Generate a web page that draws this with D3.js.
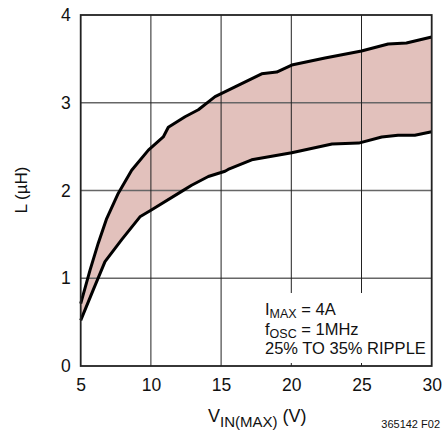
<!DOCTYPE html>
<html><head><meta charset="utf-8">
<script src="https://cdn.jsdelivr.net/npm/d3@7"></script>
<style>
html,body{margin:0;padding:0;background:#fff;}
svg{display:block;}
text{font-family:"Liberation Sans",Arial,sans-serif;fill:#111;}
</style></head>
<body>
<script>
// ---- data ----
const xTicks = [5, 10, 15, 20, 25, 30];
const yTicks = [0, 1, 2, 3, 4];
const upperV = [5, 5.66, 6.25, 6.85, 7.68, 8.63, 9.82, 10.88, 11.24, 12.43, 13.38, 14.57, 15.99, 17.89, 18.96, 20.03, 22.4, 25.0, 26.9, 28.2, 30];
const upperL = [0.71, 1.09, 1.40, 1.68, 1.97, 2.23, 2.46, 2.61, 2.72, 2.84, 2.92, 3.07, 3.18, 3.33, 3.35, 3.43, 3.51, 3.59, 3.67, 3.68, 3.75];
const lowerV = [5, 5.9, 6.73, 7.92, 9.22, 10.06, 12.19, 12.9, 14.09, 15.28, 15.5, 17.18, 20.03, 22.9, 24.8, 26.44, 27.6, 28.8, 30];
const lowerL = [0.52, 0.87, 1.19, 1.44, 1.70, 1.78, 1.99, 2.06, 2.16, 2.22, 2.24, 2.35, 2.43, 2.53, 2.54, 2.61, 2.63, 2.63, 2.67];
const notes = [["I", "MAX", " = 4A"], ["f", "OSC", " = 1MHz"], ["25% TO 35% RIPPLE", "", ""]];

const W = 444, H = 431;
const svg = d3.select("body").append("svg").attr("width", W).attr("height", H);
const x = d3.scaleLinear().domain([5, 30]).range([80.7, 431.7]);
const y = d3.scaleLinear().domain([0, 4]).range([366, 15]);

// band
const upper = upperV.map((v, i) => [v, upperL[i]]);
const lower = lowerV.map((v, i) => [v, lowerL[i]]);
const poly = upper.concat(lower.slice().reverse());
const line = d3.line().x(d => x(d[0])).y(d => y(d[1])).curve(d3.curveLinear);
svg.append("path").attr("d", line(poly) + "Z").attr("fill", "#e2c1bc").attr("stroke", "none");

// grid
svg.append("g").selectAll("line").data(yTicks.slice(1, -1)).join("line")
  .attr("x1", x(5)).attr("x2", x(30)).attr("y1", d => y(d)).attr("y2", d => y(d))
  .attr("stroke", "#666").attr("stroke-width", 1.3);
svg.append("g").selectAll("line").data(xTicks.slice(1, -1)).join("line")
  .attr("x1", d => x(d)).attr("x2", d => x(d)).attr("y1", y(0)).attr("y2", y(4))
  .attr("stroke", "#222").attr("stroke-width", 1);

// curves
svg.append("path").attr("d", line(upper)).attr("fill", "none").attr("stroke", "#000").attr("stroke-width", 3).attr("stroke-linejoin", "round");
svg.append("path").attr("d", line(lower)).attr("fill", "none").attr("stroke", "#000").attr("stroke-width", 3).attr("stroke-linejoin", "round");

// annotation box
svg.append("rect").attr("x", 262).attr("y", 293).attr("width", x(30) - 263).attr("height", 70).attr("fill", "#fff");
const nt = svg.append("g");
notes.forEach((n, i) => {
  const t = nt.append("text").attr("x", 265).attr("y", 315 + i * 19.5).attr("font-size", 16.5);
  t.append("tspan").text(n[0]);
  if (n[1]) {
    t.append("tspan").attr("dy", 3).attr("font-size", 12.5).text(n[1]);
    t.append("tspan").attr("dy", -3).text(n[2]);
  }
});

// frame
svg.append("rect").attr("x", x(5)).attr("y", y(4)).attr("width", x(30) - x(5)).attr("height", y(0) - y(4))
  .attr("fill", "none").attr("stroke", "#222").attr("stroke-width", 1.8);

// axes labels
const xa = d3.axisBottom(x).tickValues(xTicks).tickFormat(d3.format("d")).tickSize(0).tickPadding(13);
const gx = svg.append("g").attr("transform", `translate(0,${y(0)})`).call(xa);
gx.select(".domain").remove();
gx.selectAll("text").attr("font-size", 17.5).style("font-family", "'Liberation Sans',Arial,sans-serif").attr("fill", "#111");
const ya = d3.axisLeft(y).tickValues(yTicks).tickFormat(d3.format("d")).tickSize(0).tickPadding(10);
const gy = svg.append("g").attr("transform", `translate(${x(5)},0)`).call(ya);
gy.select(".domain").remove();
gy.selectAll("text").attr("font-size", 17.5).style("font-family", "'Liberation Sans',Arial,sans-serif").attr("fill", "#111");

// x title
const xt = svg.append("text").attr("x", 208).attr("y", 422).attr("font-size", 18);
xt.append("tspan").text("V");
xt.append("tspan").attr("dy", 5).attr("font-size", 15).text("IN(MAX)");
xt.append("tspan").attr("dy", -5).text(" (V)");

// y title
svg.append("text").attr("transform", "translate(27,190) rotate(-90)").attr("text-anchor", "middle")
  .attr("font-size", 17).text("L (µH)");

// footnote
svg.append("text").attr("x", 440).attr("y", 428).attr("text-anchor", "end").attr("font-size", 11).text("365142 F02");
</script>
</body></html>
